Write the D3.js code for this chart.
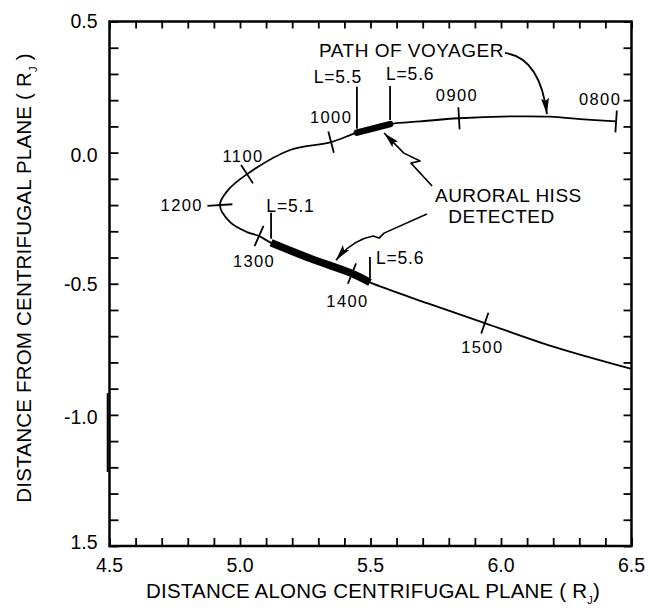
<!DOCTYPE html>
<html><head><meta charset="utf-8">
<script src="https://cdn.jsdelivr.net/npm/d3@7"></script>
<style>
html,body{margin:0;padding:0;background:#fff;}
svg{display:block;}
text{font-family:"Liberation Sans",Arial,Helvetica,sans-serif;fill:#000;}
</style>
</head><body>
<svg id="chart" width="648" height="612"></svg>
<script>
// ---------------- DATA ----------------
const xTickValues = [4.5, 5.0, 5.5, 6.0, 6.5];
const xTickLabels = ["4.5", "5.0", "5.5", "6.0", "6.5"];
const yTickValues = [0.5, 0.0, -0.5, -1.0, -1.5];
const yTickLabels = ["0.5", "0.0", "-0.5", "-1.0", "1.5"];

// Voyager path (0800 -> 1500 and beyond), distance along / from centrifugal plane (RJ)
const pathX = [6.441, 6.303, 6.188, 6.035, 5.839, 5.690, 5.575, 5.448, 5.349, 5.192, 5.027, 4.954, 4.923, 4.962, 5.027, 5.073, 5.119, 5.270, 5.429, 5.498, 5.720, 5.938, 6.200, 6.500];
const pathY = [0.119, 0.128, 0.137, 0.138, 0.131, 0.119, 0.109, 0.076, 0.040, 0.010, -0.082, -0.143, -0.200, -0.265, -0.303, -0.318, -0.344, -0.404, -0.461, -0.495, -0.575, -0.650, -0.740, -0.825];

// hour marks along path (index into path arrays)
const hourLabels = ["0800", "0900", "1000", "1100", "1200", "1300", "1400", "1500"];
const hourIndex = [0, 4, 8, 10, 12, 15, 18, 21];

// L-shell marks
const lLabels = ["L=5.5", "L=5.6", "L=5.1", "L=5.6"];
const lIndex = [7, 6, 16, 19];

// auroral hiss detected segments (start index, end index)
const hissStart = [6, 16];
const hissEnd = [7, 19];

// annotation texts and anchor points (data units)
const annoTexts = ["PATH OF VOYAGER", "AURORAL HISS", "DETECTED"];
const annoX = [5.303, 5.747, 5.798];
const annoY = [0.366, -0.187, -0.267];

// annotation arrows (data units)
const voyArrowX = [6.015, 6.149, 6.176];
const voyArrowY = [0.380, 0.362, 0.147];
const hissUpX = [5.736, 5.655, 5.690, 5.628, 5.552];
const hissUpY = [-0.127, -0.040, -0.032, -0.002, 0.075];
const hissLoX = [5.716, 5.552, 5.533, 5.510, 5.429, 5.368];
const hissLoY = [-0.234, -0.307, -0.326, -0.318, -0.333, -0.410];

// ---------------- CHART ----------------
const svg = d3.select("#chart");
const x = d3.scaleLinear().domain([4.5, 6.5]).range([109.5, 631.5]);
const y = d3.scaleLinear().domain([-1.5, 0.5]).range([546, 21.5]);

const defs = svg.append("defs");
defs.append("marker").attr("id", "ah")
  .attr("viewBox", "0 0 16 8").attr("refX", 16).attr("refY", 4)
  .attr("markerWidth", 16).attr("markerHeight", 8)
  .attr("markerUnits", "userSpaceOnUse").attr("orient", "auto")
  .append("path").attr("d", "M0,0 L16,4 L0,8 L3,4 Z").attr("fill", "#000");

// minor ticks via d3 axes (inward)
const minorX = d3.range(0, 21).map(i => 4.5 + i * 0.1);
const minorY = d3.range(0, 21).map(i => -1.5 + i * 0.1);

const axB = svg.append("g").attr("transform", `translate(0,${y(-1.5)})`)
  .call(d3.axisBottom(x).tickValues(minorX).tickSizeInner(-8).tickSizeOuter(0).tickFormat(""));
const axT = svg.append("g").attr("transform", `translate(0,${y(0.5)})`)
  .call(d3.axisTop(x).tickValues(minorX).tickSizeInner(-7).tickSizeOuter(0).tickFormat(""));
const axL = svg.append("g").attr("transform", `translate(${x(4.5)},0)`)
  .call(d3.axisLeft(y).tickValues(minorY).tickSizeInner(-9).tickSizeOuter(0).tickFormat(""));
const axR = svg.append("g").attr("transform", `translate(${x(6.5)},0)`)
  .call(d3.axisRight(y).tickValues(minorY).tickSizeInner(-8).tickSizeOuter(0).tickFormat(""));
[axB, axT, axL, axR].forEach(g => {
  g.select(".domain").remove();
  g.selectAll(".tick line").attr("stroke", "#000").attr("stroke-width", 1.8);
});

// frame
svg.append("rect")
  .attr("x", x(4.5)).attr("y", y(0.5))
  .attr("width", x(6.5) - x(4.5)).attr("height", y(-1.5) - y(0.5))
  .attr("fill", "none").attr("stroke", "#000").attr("stroke-width", 2.5);
// ink thickening on left axis (as in the scan)
svg.append("line")
  .attr("x1", x(4.5) - 1.8).attr("x2", x(4.5) - 1.8)
  .attr("y1", y(-0.917)).attr("y2", y(-1.218))
  .attr("stroke", "#000").attr("stroke-width", 2);

// tick labels
svg.append("g").selectAll("text").data(xTickValues).join("text")
  .attr("x", d => x(d)).attr("y", y(-1.5) + 26)
  .attr("text-anchor", "middle").attr("font-size", 19.5)
  .text((d, i) => xTickLabels[i]);
const yLabDy = [6, 9, 7, 9, 3];
svg.append("g").selectAll("text").data(yTickValues).join("text")
  .attr("x", x(4.5) - 12).attr("y", (d, i) => y(d) + yLabDy[i])
  .attr("text-anchor", "end").attr("font-size", 19.5)
  .text((d, i) => yTickLabels[i]);

// axis titles
const xt = svg.append("text").attr("x", 373).attr("y", 598)
  .attr("text-anchor", "middle").attr("font-size", 20.5).attr("letter-spacing", 0.2);
xt.append("tspan").text("DISTANCE ALONG CENTRIFUGAL PLANE ( R");
xt.append("tspan").attr("font-size", 11).attr("dy", 6).text("J");
xt.append("tspan").attr("dy", -6).text(")");

const yt = svg.append("text").attr("transform", "translate(31,278) rotate(-90)")
  .attr("text-anchor", "middle").attr("font-size", 20.5).attr("letter-spacing", 0.2);
yt.append("tspan").text("DISTANCE FROM CENTRIFUGAL PLANE ( R");
yt.append("tspan").attr("font-size", 11).attr("dy", 6).text("J");
yt.append("tspan").attr("dy", -6).text(" )");

// path of Voyager
const idx = d3.range(pathX.length);
const line = d3.line().x(i => x(pathX[i])).y(i => y(pathY[i])).curve(d3.curveCatmullRom.alpha(0.5));
svg.append("path").attr("d", line(idx))
  .attr("fill", "none").attr("stroke", "#000").attr("stroke-width", 1.8);

// hiss segments
hissStart.forEach((s, k) => {
  svg.append("path").attr("d", line(d3.range(s, hissEnd[k] + 1)))
    .attr("fill", "none").attr("stroke", "#000")
    .attr("stroke-width", k === 0 ? 6.5 : 7.5)
    .attr("stroke-linecap", k === 0 ? "round" : "butt");
});

// hour ticks and labels
const tickLen = [22, 22, 22, 22, 25, 22, 22, 22];
const hourOff = [[-16, -16.5, "middle"], [-2, -17, "middle"], [0, -19, "middle"], [-4, -12.5, "middle"],
                 [-17, 6, "end"], [-5, 31, "middle"], [-4.5, 33, "middle"], [-2.5, 30, "middle"]];
hourIndex.forEach((i, k) => {
  const px = x(pathX[i]), py = y(pathY[i]);
  const a = Math.max(0, i - 1), b = Math.min(pathX.length - 1, i + 1);
  let dx = x(pathX[b]) - x(pathX[a]), dy = y(pathY[b]) - y(pathY[a]);
  const n = Math.hypot(dx, dy); dx /= n; dy /= n;
  const h = tickLen[k] / 2;
  svg.append("line")
    .attr("x1", px - dy * h).attr("y1", py + dx * h)
    .attr("x2", px + dy * h).attr("y2", py - dx * h)
    .attr("stroke", "#000").attr("stroke-width", 1.8);
  svg.append("text")
    .attr("x", px + hourOff[k][0]).attr("y", py + hourOff[k][1])
    .attr("text-anchor", hourOff[k][2]).attr("font-size", 16.5).attr("letter-spacing", 1.4)
    .text(hourLabels[k]);
});

// L-shell markers
const lTop = [46, 38, 30, 25.5];
const lLab = [[5, -49.4, "end"], [-4, -44, "start"], [-4.7, -31, "start"], [6, -18.2, "start"]];
lIndex.forEach((i, k) => {
  const px = x(pathX[i]), py = y(pathY[i]);
  svg.append("line").attr("x1", px).attr("x2", px)
    .attr("y1", py - 4).attr("y2", py - lTop[k])
    .attr("stroke", "#000").attr("stroke-width", 1.8);
  svg.append("text").attr("x", px + lLab[k][0]).attr("y", py + lLab[k][1])
    .attr("text-anchor", lLab[k][2]).attr("font-size", 17.5).attr("letter-spacing", 0.8)
    .text(lLabels[k]);
});

// annotation texts
annoTexts.forEach((t, k) => {
  svg.append("text").attr("x", x(annoX[k])).attr("y", y(annoY[k]))
    .attr("font-size", 19).attr("letter-spacing", 0.5).text(t);
});

// arrows
const p1 = d3.path();
p1.moveTo(x(voyArrowX[0]), y(voyArrowY[0]));
p1.quadraticCurveTo(x(voyArrowX[1]), y(voyArrowY[1]), x(voyArrowX[2]), y(voyArrowY[2]));
svg.append("path").attr("d", p1.toString()).attr("fill", "none")
  .attr("stroke", "#000").attr("stroke-width", 1.8).attr("marker-end", "url(#ah)");

const p2 = d3.path();
p2.moveTo(x(hissUpX[0]), y(hissUpY[0]));
for (let i = 1; i < hissUpX.length; i++) p2.lineTo(x(hissUpX[i]), y(hissUpY[i]));
svg.append("path").attr("d", p2.toString()).attr("fill", "none")
  .attr("stroke", "#000").attr("stroke-width", 1.6).attr("stroke-linejoin", "round").attr("marker-end", "url(#ah)");

const p3 = d3.path();
p3.moveTo(x(hissLoX[0]), y(hissLoY[0]));
for (let i = 1; i < 4; i++) p3.lineTo(x(hissLoX[i]), y(hissLoY[i]));
p3.quadraticCurveTo(x(hissLoX[4]), y(hissLoY[4]), x(hissLoX[5]), y(hissLoY[5]));
svg.append("path").attr("d", p3.toString()).attr("fill", "none")
  .attr("stroke", "#000").attr("stroke-width", 1.6).attr("stroke-linejoin", "round").attr("marker-end", "url(#ah)");
</script>
</body></html>
